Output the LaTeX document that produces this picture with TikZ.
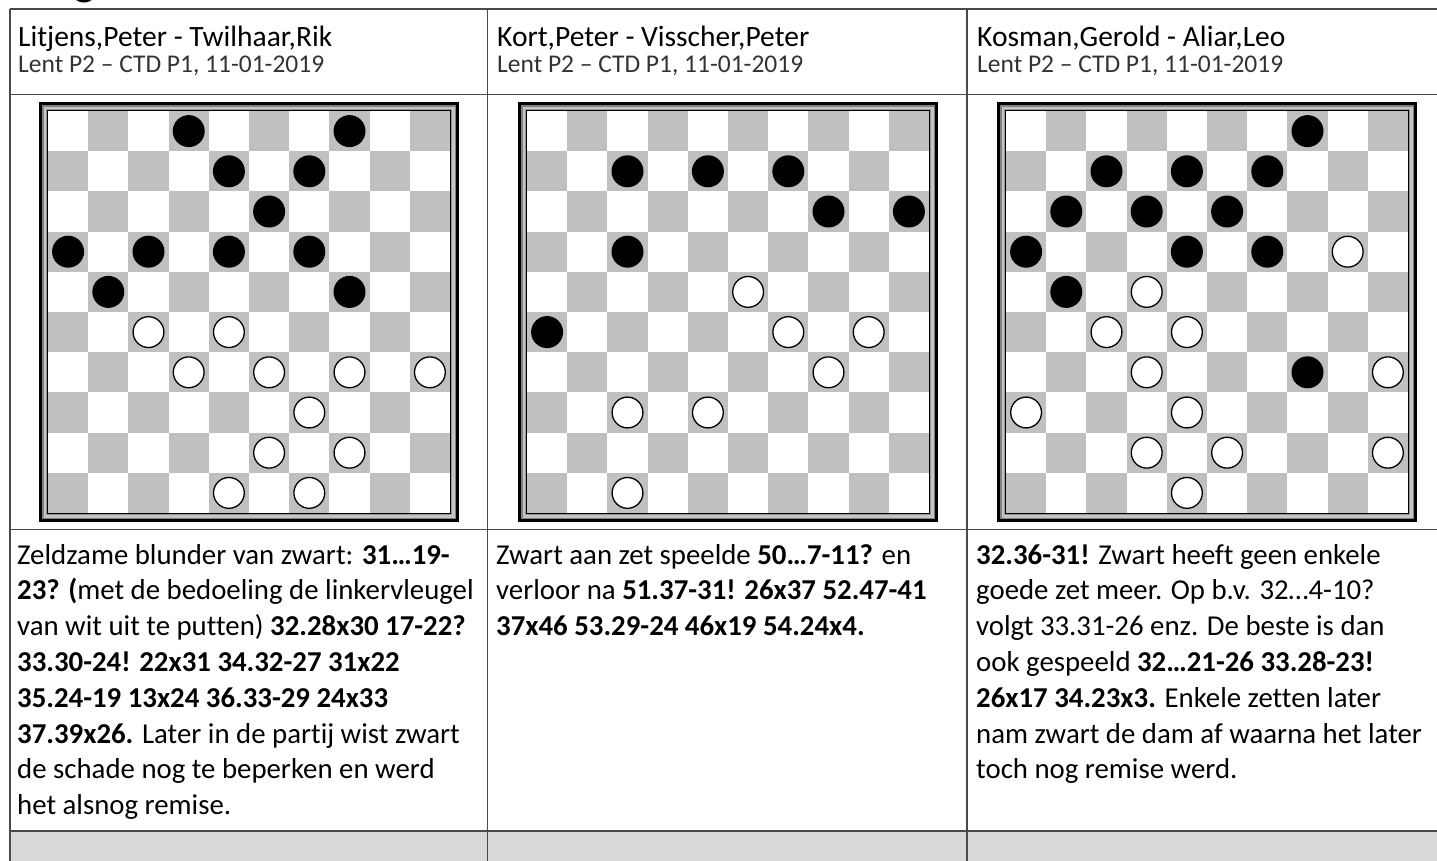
\documentclass[tikz,border=0pt]{standalone}
\usepackage{fontspec}
\setmainfont{Carlito}[Ligatures={TeX,NoCommon}]
\usepackage{tikz}
\usetikzlibrary{calc}
\usepackage{xcolor}

\definecolor{veld}{HTML}{C0C0C0}
\definecolor{randgrijs}{HTML}{808080}
\definecolor{randlicht}{HTML}{C4C4C4}
\definecolor{randmidden}{HTML}{969696}
\definecolor{lijn}{HTML}{4A4A4A}
\definecolor{onderrij}{HTML}{D9D9D9}

\newcommand{\regels}[1]{\begin{tabular}[t]{@{}l@{}}#1\end{tabular}}

\newcommand{\dambord}[4]{%
  \begin{scope}[shift={(#1,#2)}]
    \fill[black] (0,0) rectangle (420,420);
    \fill[randgrijs] (3,3) rectangle (417,417);
    \fill[randlicht] (4.5,4.5) rectangle (415.5,415.5);
    \fill[randmidden] (7,7) rectangle (413,413);
    \fill[black] (8,8) rectangle (412,412);
    \fill[white] (9,9) rectangle (411,411);
    \foreach \r in {0,...,9}
      \foreach \k in {1,3,...,9} {
        \pgfmathtruncatemacro\c{\k-mod(\r,2)}
        \fill[veld] ({9+40.2*\c},{9+40.2*\r}) rectangle +(40.2,40.2);
      }
    \foreach \r/\c in {#3}
      \fill[black] ({9+40.2*(\c+0.5)},{9+40.2*(\r+0.5)}) circle (16);
    \foreach \r/\c in {#4}
      \filldraw[fill=white, draw=black, line width=1.3pt] ({9+40.2*(\c+0.5)},{9+40.2*(\r+0.5)}) circle (15.4);
  \end{scope}}

\begin{document}
\begin{tikzpicture}[x=1pt, y=-1pt,
    naam/.style={anchor=base west, inner sep=0pt, font=\fontsize{29.5}{34}\selectfont},
    datum/.style={anchor=base west, inner sep=0pt, text=black!80, font=\fontsize{25.5}{30}\selectfont},
    tekst/.style={anchor=base west, inner sep=0pt, font=\fontsize{28.8}{35.8}\selectfont},
    tabel/.style={draw=lijn, line width=1.3pt}]
  \useasboundingbox (0,0) rectangle (1437,860);
  \clip (0,0) rectangle (1437,860);
  \fill[white] (0,0) rectangle (1437,860);

  \node[anchor=base west, inner sep=0pt, font=\bfseries\fontsize{44}{50}\selectfont] (kop) at (14,-5) {Diagrammen};

  \fill[onderrij] (10,831) rectangle (1446,870);
  \foreach \y in {9,94.5,529.5,831}
    \draw[tabel] (10,\y) -- (1446,\y);
  \foreach \x in {10,487.5,967,1446}
    \draw[tabel] (\x,9) -- (\x,870);

  \node[naam] (naamA) at (18,46) {Litjens,Peter - Twilhaar,Rik};
  \node[naam] (naamB) at (497,46) {Kort,Peter - Visscher,Peter};
  \node[naam] (naamC) at (977,46) {Kosman,Gerold - Aliar,Leo};
  \node[datum] (datumA) at (18,72) {Lent P2 – CTD P1, 11-01-2019};
  \node[datum] (datumB) at (497,72) {Lent P2 – CTD P1, 11-01-2019};
  \node[datum] (datumC) at (977,72) {Lent P2 – CTD P1, 11-01-2019};

  \dambord{39}{102}
    {0/3,0/7,1/4,1/6,2/5,3/0,3/2,3/4,3/6,4/1,4/7}
    {5/2,5/4,6/3,6/5,6/7,6/9,7/6,8/5,8/7,9/4,9/6}
  \dambord{518}{102}
    {1/2,1/4,1/6,2/7,2/9,3/2,5/0}
    {4/5,5/6,5/8,6/7,7/2,7/4,9/2}
  \dambord{997}{102}
    {0/7,1/2,1/4,1/6,2/1,2/3,2/5,3/0,3/4,3/6,4/1,6/7}
    {3/8,4/3,5/2,5/4,6/3,6/9,7/0,7/4,8/3,8/5,8/9,9/4}

  \node[tekst] (tekstA) at (17,564) {\regels{%
    Zeldzame blunder van zwart: \textbf{31…19-}\\
    \textbf{23? (}met de bedoeling de linkervleugel\\
    van wit uit te putten) \textbf{32.28x30 17-22?}\\
    \textbf{33.30-24! 22x31 34.32-27 31x22}\\
    \textbf{35.24-19 13x24 36.33-29 24x33}\\
    \textbf{37.39x26.} Later in de partij wist zwart\\
    de schade nog te beperken en werd\\
    het alsnog remise.}};
  \node[tekst] (tekstB) at (496,564) {\regels{%
    Zwart aan zet speelde \textbf{50…7-11?} en\\
    verloor na \textbf{51.37-31! 26x37 52.47-41}\\
    \textbf{37x46 53.29-24 46x19 54.24x4.}}};
  \node[tekst] (tekstC) at (976,564) {\regels{%
    \textbf{32.36-31!} Zwart heeft geen enkele\\
    goede zet meer. Op b.v. 32…4-10?\\
    volgt 33.31-26 enz. De beste is dan\\
    ook gespeeld \textbf{32…21-26 33.28-23!}\\
    \textbf{26x17 34.23x3.} Enkele zetten later\\
    nam zwart de dam af waarna het later\\
    toch nog remise werd.}};
\end{tikzpicture}
\end{document}
